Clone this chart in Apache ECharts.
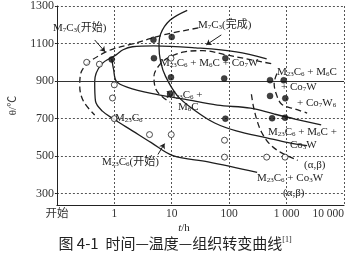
<!DOCTYPE html>
<html><head><meta charset="utf-8">
<script src="https://cdn.jsdelivr.net/npm/echarts@6/dist/echarts.min.js"></script>
<style>html,body{margin:0;padding:0;background:#fff}#c{width:349px;height:256px}</style>
</head><body><div id="c"></div>
<script>
// ---- tick labels ----
const xTickValues = [0.1, 1, 10, 100, 1000, 10000];
const xTickLabels = ['开始', '1', '10', '100', '1 000', '10 000'];
const yTickValues = [300, 500, 700, 900, 1100, 1300];
const solidGridTemp = [900];

// ---- curves: [t (h), θ (℃)] ----
const m23c6Start = [[450,1019],[133,1056],[26,1077],[4.9,1088],[2.07,1083],[1.42,1067],[1.09,1041],[0.59,988],[0.455,898],[0.47,793],[0.62,740],[0.97,698],[2.07,635],[4.4,572],[10.5,503],[43,470],[307,414]];
const m6cStart = [[0.9,1020],[0.97,962],[1.09,898],[1.71,867],[4.4,835],[16.6,804],[62,772],[235,756],[600,725],[1400,698],[4000,667]];
const co3wStart = [[18.6,1277],[9.4,1225],[6.4,1151],[6.0,1083],[6.4,1004],[7.8,925],[12.7,820],[26,741],[56,677],[133,635],[450,598],[1070,572],[2280,556]];
const m7c3Start = [[29,1183],[7.2,1146],[2.07,1098],[0.97,1072],[0.62,1046],[0.34,993],[0.26,940],[0.25,872],[0.29,793],[0.455,719]];
const m7c3Finish = [[540,993],[195,1019],[85,1041],[35,1062],[16.6,1056],[9.4,1030],[6.4,993],[4.9,925],[5.3,856],[7.0,814],[9.4,788]];
const co7w6Bound = [[680,940],[607,888],[655,835],[820,777],[1400,751],[2280,730]];
const alphaBetaBound = [[244,830],[264,767],[307,688],[371,625],[500,567],[790,520],[1560,478]];

// ---- experimental points ----
const openPoints = [[0.33,1000],[0.55,990],[1,880],[0.93,810],[1,700],[9.7,1022],[4.1,615],[9.8,615],[83,585],[83,495],[450,495],[940,495]];
const filledPoints = [[0.9,1015],[4.8,1120],[10,1135],[4.9,1022],[86,1022],[9.7,920],[82,914],[9.4,833],[86,700],[515,905],[890,904],[515,821],[950,808],[560,702],[940,705]];

// ---- leader arrows ----
const leaderM7C3Start = [[0.455,1119],[0.69,1056]];
const leaderM7C3Finish = [[73,1146],[40,1093]];
const leaderM23C6Start = [[5.75,509],[7.5,567]];

const ink = '#1e1e1e';
const serif = '"Liberation Serif","Noto Sans CJK SC",serif';
const gridLine = {color:'#555', type:[2,2], width:1};

function curve(name, data, dashed){
  return {name, type:'line', data, smooth:0.35, showSymbol:false, symbol:'none',
    lineStyle:{color:ink, width:1.3, type: dashed ? [6,3.5] : 'solid'}, z:2, silent:true};
}
function leader(pair){
  return {type:'line', data:[], silent:true, markLine:{silent:true, symbol:['none','arrow'], symbolSize:5,
    lineStyle:{color:ink, width:1, type:'solid'}, label:{show:false},
    data:[[{coord:pair[0]},{coord:pair[1]}]]}};
}
function chem(s){ return s.replace(/(\d+)/g, '{s|$1}'); }
function txt(x, y, s, size){
  size = size || 11;
  return {type:'text', x, y, silent:true, z:10, style:{text:chem(s), fontSize:size, fontFamily:serif, fill:ink,
    verticalAlign:'middle', align:'left',
    rich:{s:{fontSize:Math.round(size*0.65), fontFamily:serif, fill:ink, verticalAlign:'bottom'}}}};
}

// annotation layout (pixel positions of text)
const annotations = [
  [53, 28, 'M7C3(开始)'],
  [198, 25, 'M7C3(完成)'],
  [160, 63, 'M23C6 + M6C + Co7W'],
  [166, 95, 'M23C6 +'],
  [178, 107, 'M6C'],
  [277, 72, 'M23C6 + M6C'],
  [281, 87, '+ Co7W'],
  [297, 103, '+ Co7W6'],
  [268, 132, 'M23C6 + M6C +'],
  [290, 145, 'Co3W'],
  [304, 165, '(α,β)'],
  [257, 178, 'M23C6 + Co3W'],
  [283, 193, '(α,β)'],
  [115, 118, 'M23C6'],
  [102, 162, 'M23C6(开始)']
];

const chart = echarts.init(document.getElementById('c'), null, {renderer:'canvas'});
chart.setOption({
  animation:false,
  backgroundColor:'#fff',
  grid:{left:40, right:5, top:4, bottom:51, containLabel:false},
  xAxis:{type:'log', logBase:10, min:0.1, max:10000,
    axisLine:{show:true, onZero:false, lineStyle:{color:'#222', width:1}},
    axisTick:{show:false}, minorTick:{show:false}, minorSplitLine:{show:false},
    axisLabel:{color:'#333', fontSize:11.5, fontFamily:serif, margin:3, alignMinLabel:'center', alignMaxLabel:'right',
      formatter:function(v){
        const i = xTickValues.findIndex(t => Math.abs(Math.log10(t) - Math.log10(v)) < 1e-6);
        return i >= 0 ? xTickLabels[i] : '';
      }},
    splitLine:{show:true, lineStyle:gridLine}},
  yAxis:{type:'value', min:240, max:1300,
    axisLine:{show:true, lineStyle:{color:'#222', width:1}},
    axisTick:{show:true, customValues:yTickValues, length:2, lineStyle:{color:'#222'}},
    axisLabel:{customValues:yTickValues, color:'#333', fontSize:12, fontFamily:serif, margin:3,
      formatter:function(v){ return String(v); }},
    splitLine:{show:true, lineStyle:gridLine},
    name:'θ/℃', nameLocation:'middle', nameGap:29,
    nameTextStyle:{color:'#333', fontSize:11, fontFamily:serif}},
  graphic:[
    ...annotations.map(a => txt(a[0], a[1], a[2])),
    {type:'text', x:184, y:228, silent:true, style:{text:'{i|t}/h', fontSize:11, fontFamily:serif, fill:ink, align:'center', verticalAlign:'middle',
      rich:{i:{fontSize:11, fontFamily:serif, fontStyle:'italic', fill:ink}}}},
    {type:'text', x:175, y:243, silent:true, style:{text:'图 4-1  时间—温度—组织转变曲线{sup|[1]}', fontSize:15,
      fontFamily:'"Noto Sans CJK SC",sans-serif', fill:'#222', align:'center', verticalAlign:'middle',
      rich:{sup:{fontSize:8, fontFamily:serif, fill:'#222', verticalAlign:'top'}}}}
  ],
  series:[
    {type:'line', data:[], silent:true, markLine:{silent:true, symbol:'none', label:{show:false},
      lineStyle:{color:'#333', type:'solid', width:1}, data: solidGridTemp.map(v => ({yAxis:v}))}},
    curve('M23C6 start', m23c6Start, false),
    curve('M6C start', m6cStart, false),
    curve('Co3W start', co3wStart, false),
    curve('M7C3 start', m7c3Start, true),
    curve('M7C3 finish', m7c3Finish, true),
    curve('Co7W6', co7w6Bound, true),
    curve('alpha beta', alphaBetaBound, true),
    leader(leaderM7C3Start),
    leader(leaderM7C3Finish),
    leader(leaderM23C6Start),
    {name:'open', type:'scatter', data:openPoints, symbol:'circle', symbolSize:6, z:5, silent:true,
      itemStyle:{color:'#fff', borderColor:'#222', borderWidth:1}},
    {name:'filled', type:'scatter', data:filledPoints, symbol:'circle', symbolSize:6, z:5, silent:true,
      itemStyle:{color:'#111', borderColor:'#111', borderWidth:0.5}}
  ]
});
</script>
</body></html>
